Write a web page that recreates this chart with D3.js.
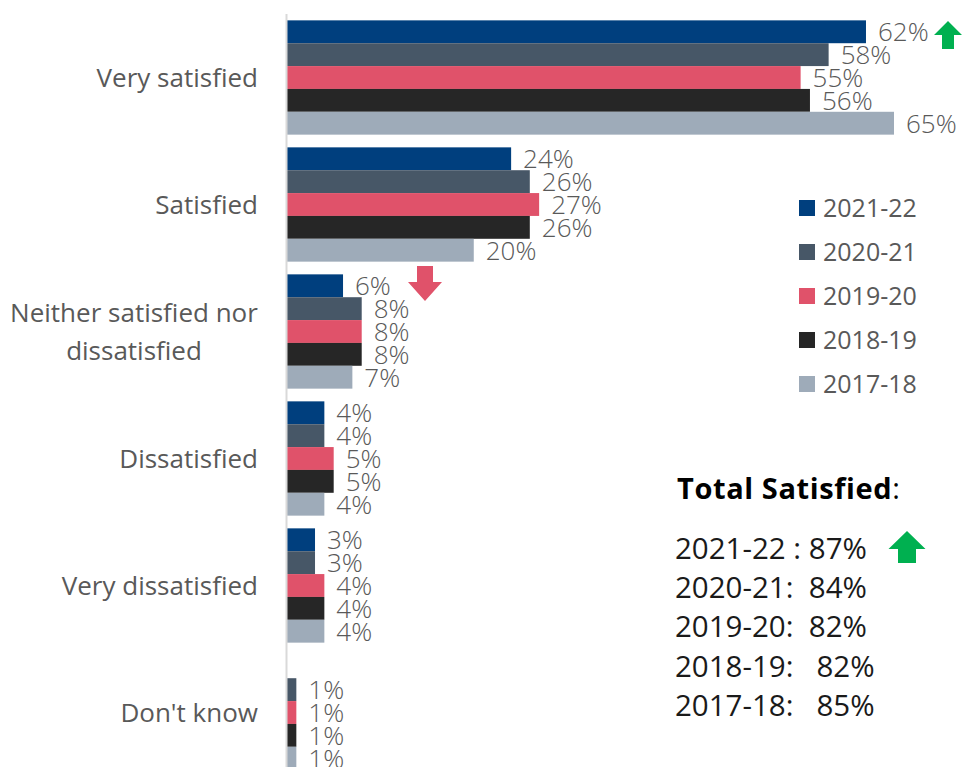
<!DOCTYPE html>
<html>
<head>
<meta charset="utf-8">
<script src="https://cdn.jsdelivr.net/npm/d3@7"></script>
<style>
  html, body { margin: 0; padding: 0; background: #fff; }
  svg { display: block; font-family: "Open Sans", "Noto Sans", sans-serif; }
</style>
</head>
<body>
<svg id="chart" width="962" height="767"></svg>
<script>
// Response categories, top to bottom
const categories = ["Very satisfied", "Satisfied", "Neither satisfied nor dissatisfied", "Dissatisfied", "Very dissatisfied", "Don't know"];
// Survey years (series)
const years = ["2021-22", "2020-21", "2019-20", "2018-19", "2017-18"];
const colors = ["#003f7e", "#475767", "#e0526a", "#262626", "#9eabb9"];
// Percentages per category, one value per year (null = not reported)
const v2021_22 = [62, 24, 6, 4, 3, null];
const v2020_21 = [58, 26, 8, 4, 3, 1];
const v2019_20 = [55, 27, 8, 5, 4, 1];
const v2018_19 = [56, 26, 8, 5, 4, 1];
const v2017_18 = [65, 20, 7, 4, 4, 1];
const seriesValues = [v2021_22, v2020_21, v2019_20, v2018_19, v2017_18];
// Total satisfied summary
const totalLabels = ["2021-22 : 87%", "2020-21:  84%", "2019-20:  82%", "2018-19:   82%", "2017-18:   85%"];

const svg = d3.select("#chart");
const x0 = 287;

const x = d3.scaleLinear().domain([0, 65]).range([x0, 894]);
const y = d3.scaleBand().domain(categories).range([14, 776]).paddingInner(0.1).paddingOuter(0.05);
const ySub = d3.scaleBand().domain(years).range([0, y.bandwidth()]);

const rows = [];
categories.forEach((c, i) => {
  years.forEach((yr, j) => {
    const v = seriesValues[j][i];
    if (v !== null) rows.push({ cat: c, year: yr, value: v, color: colors[j] });
  });
});

// bars
svg.append("g").selectAll("rect").data(rows).join("rect")
  .attr("x", x0)
  .attr("y", d => y(d.cat) + ySub(d.year))
  .attr("width", d => x(d.value) - x0)
  .attr("height", ySub.bandwidth())
  .attr("fill", d => d.color);

// category axis line
svg.append("line")
  .attr("x1", x0 - 0.5).attr("x2", x0 - 0.5)
  .attr("y1", 14).attr("y2", 767)
  .attr("stroke", "#d9d9d9").attr("stroke-width", 2);

// value labels
svg.append("g").selectAll("text").data(rows).join("text")
  .attr("x", d => x(d.value) + 12)
  .attr("y", d => y(d.cat) + ySub(d.year) + ySub.bandwidth() / 2)
  .attr("dy", "0.36em")
  .attr("font-size", 26)
  .attr("font-weight", 300)
  .attr("fill", "#595959")
  .text(d => d.value + "%");

// category labels
const catG = svg.append("g");
categories.forEach(c => {
  const cy = y(c) + y.bandwidth() / 2;
  if (c === "Neither satisfied nor dissatisfied") {
    const t = catG.append("text").attr("text-anchor", "middle").attr("font-size", 26).attr("fill", "#595959");
    t.append("tspan").attr("x", 134).attr("y", cy - 19).attr("dy", "0.36em").text("Neither satisfied nor");
    t.append("tspan").attr("x", 134).attr("y", cy + 19).attr("dy", "0.36em").text("dissatisfied");
  } else {
    catG.append("text").attr("x", 258).attr("y", cy).attr("dy", "0.36em")
      .attr("text-anchor", "end").attr("font-size", 26).attr("fill", "#595959").text(c);
  }
});

// legend
const leg = svg.append("g").selectAll("g").data(years).join("g")
  .attr("transform", (d, i) => `translate(799, ${208 + i * 44})`);
leg.append("rect").attr("x", 0).attr("y", -8).attr("width", 16).attr("height", 16)
  .attr("fill", (d, i) => colors[i]);
leg.append("text").attr("x", 24).attr("y", 0).attr("dy", "0.36em")
  .attr("font-size", 25).attr("fill", "#595959").text(d => d);

// arrows
function upArrow(cx, top, w, h, headH, stemW, color) {
  const p = d3.path();
  p.moveTo(cx, top);
  p.lineTo(cx + w / 2, top + headH);
  p.lineTo(cx + stemW / 2, top + headH);
  p.lineTo(cx + stemW / 2, top + h);
  p.lineTo(cx - stemW / 2, top + h);
  p.lineTo(cx - stemW / 2, top + headH);
  p.lineTo(cx - w / 2, top + headH);
  p.closePath();
  svg.append("path").attr("d", p.toString()).attr("fill", color);
}
function downArrow(cx, top, w, h, headH, stemW, color) {
  const p = d3.path();
  p.moveTo(cx - stemW / 2, top);
  p.lineTo(cx + stemW / 2, top);
  p.lineTo(cx + stemW / 2, top + h - headH);
  p.lineTo(cx + w / 2, top + h - headH);
  p.lineTo(cx, top + h);
  p.lineTo(cx - w / 2, top + h - headH);
  p.lineTo(cx - stemW / 2, top + h - headH);
  p.closePath();
  svg.append("path").attr("d", p.toString()).attr("fill", color);
}
upArrow(948, 21, 28, 28, 14, 12, "#00b050");
downArrow(425, 266, 34, 35, 19, 16, "#e0526a");
upArrow(907, 531, 37, 32, 18, 18, "#00b050");

// total satisfied summary
const tot = svg.append("text").attr("x", 677).attr("y", 489).attr("dy", "0.36em")
  .attr("font-size", 29).attr("fill", "#000");
tot.append("tspan").attr("font-weight", "bold").attr("letter-spacing", 0.6).text("Total Satisfied");
tot.append("tspan").text(":");

svg.append("g").selectAll("text").data(totalLabels).join("text")
  .attr("x", 675)
  .attr("y", (d, i) => 548 + i * 39.3)
  .attr("dy", "0.36em")
  .attr("font-size", 29.5)
  .attr("fill", "#1a1a1a")
  .style("white-space", "pre")
  .text(d => d);
</script>
</body>
</html>
